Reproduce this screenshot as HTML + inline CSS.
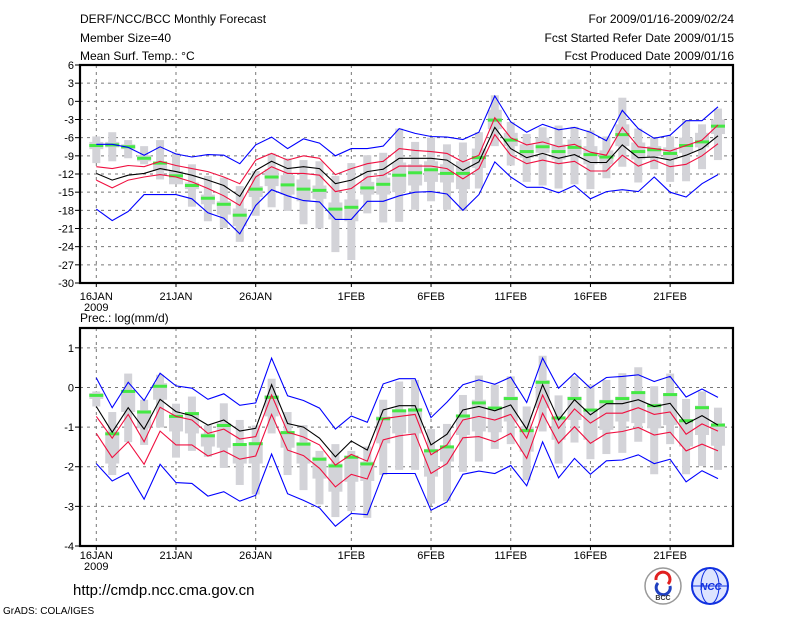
<!DOCTYPE html>
<html><head><meta charset="utf-8"><style>
html,body{margin:0;padding:0;background:#fff;}
svg{display:block;font-family:"Liberation Sans",sans-serif;}
</style></head><body>
<svg id="chart" width="800" height="618" viewBox="0 0 800 618">
<g font-size="12" fill="#000">
<text x="80" y="23">DERF/NCC/BCC Monthly Forecast</text>
<text x="80" y="42">Member Size=40</text>
<text x="80" y="60">Mean Surf. Temp.: °C</text>
<text x="734" y="23" text-anchor="end">For 2009/01/16-2009/02/24</text>
<text x="734" y="42" text-anchor="end">Fcst Started Refer Date 2009/01/15</text>
<text x="734" y="60" text-anchor="end">Fcst Produced Date 2009/01/16</text>
<text x="80" y="322">Prec.: log(mm/d)</text>
</g>
<g id="top"></g>
<g id="bot"></g>
<g>
<text x="73" y="595" font-size="15">http://cmdp.ncc.cma.gov.cn</text>
<text x="3" y="614" font-size="10">GrADS: COLA/IGES</text>
<g>
<circle cx="663" cy="586" r="18" fill="#fff" stroke="#999" stroke-width="1.5"/>
<path d="M656 580 a7 7 0 1 1 12 4" fill="none" stroke="#e02020" stroke-width="3"/>
<path d="M670 586 a7 7 0 1 1 -12 -3" fill="none" stroke="#2040c0" stroke-width="3"/>
<text x="663" y="600" font-size="7" text-anchor="middle" font-weight="bold" fill="#333">BCC</text>
</g>
<g>
<circle cx="710" cy="586" r="18" fill="#dde4ff" stroke="#1030e0" stroke-width="2"/>
<ellipse cx="710" cy="586" rx="9" ry="18" fill="none" stroke="#1030e0" stroke-width="1"/>
<line x1="692" y1="586" x2="728" y2="586" stroke="#1030e0" stroke-width="1"/>
<text x="711" y="590" font-size="10" text-anchor="middle" font-style="italic" font-weight="bold" fill="#1030e0">NCC</text>
</g>
</g>
</svg>
<script>
// ===== Temperature data (°C), 40 days 16JAN..24FEB =====
const tBlueHi=[-7.1,-7.1,-7.6,-8.9,-7.5,-8.7,-9.2,-8.8,-8.9,-10.3,-7.2,-5.9,-7.8,-6.2,-6.9,-9.0,-7.8,-7.8,-7.4,-4.5,-5.3,-5.8,-5.9,-6.3,-5.1,0.9,-3.4,-5.1,-3.8,-4.7,-4.3,-5.1,-6.5,-1.5,-4.5,-6.1,-5.6,-3.2,-3.2,-0.9];
const tRedHi=[-10.8,-11.1,-10.6,-10.8,-9.9,-10.6,-11.1,-11.6,-12.5,-13.6,-9.7,-8.6,-9.7,-9.0,-9.4,-12.1,-11.1,-10.3,-9.9,-7.8,-8.1,-8.3,-8.6,-10.0,-8.9,-2.7,-6.0,-7.2,-6.7,-7.5,-7.1,-8.4,-8.9,-4.3,-7.5,-7.8,-8.2,-7.3,-6.4,-3.9];
const tMean=[-11.9,-13.0,-12.2,-11.9,-11.1,-11.6,-12.2,-13.0,-13.9,-15.7,-11.4,-9.9,-11.1,-10.8,-11.1,-13.6,-13.0,-11.6,-11.2,-9.4,-9.4,-9.4,-9.7,-11.4,-10.0,-4.3,-7.8,-9.3,-8.6,-9.4,-8.8,-10.1,-10.1,-7.2,-9.3,-9.2,-9.7,-8.9,-7.8,-5.7];
const tRedLo=[-13.0,-14.3,-13.0,-12.5,-12.1,-12.5,-13.3,-14.4,-15.6,-17.2,-12.5,-10.8,-11.9,-11.9,-12.2,-14.9,-14.4,-12.5,-12.2,-10.7,-10.7,-10.7,-11.1,-12.8,-11.1,-5.5,-8.9,-10.3,-9.7,-10.3,-9.9,-11.5,-11.5,-8.9,-10.7,-9.7,-10.8,-10.4,-9.0,-7.0];
const tBlueLo=[-17.8,-19.7,-18.2,-15.4,-15.4,-15.4,-16.1,-18.4,-19.3,-21.9,-17.2,-14.6,-15.6,-16.4,-16.6,-19.5,-19.5,-16.5,-16.5,-15.6,-15.0,-14.9,-15.3,-18.0,-15.4,-10.0,-12.5,-14.2,-14.2,-15.1,-13.9,-16.1,-14.9,-14.6,-14.9,-12.5,-15.0,-15.8,-13.6,-12.1];
const tMax=[-5.8,-5.1,-6.4,-7.4,-6.4,-8.5,-10.4,-12.3,-12.6,-14.0,-11.5,-8.6,-9.4,-9.7,-9.9,-12.3,-10.2,-8.9,-8.5,-4.5,-6.7,-6.0,-7.1,-6.8,-5.1,1.0,-3.4,-5.4,-4.3,-4.0,-4.2,-4.8,-5.8,0.6,-4.5,-6.0,-5.8,-3.1,-3.8,-1.2];
const tMin=[-10.2,-9.9,-9.4,-10.4,-12.9,-12.9,-17.4,-19.8,-20.9,-23.2,-18.9,-17.5,-18.1,-20.3,-21.0,-24.9,-26.2,-18.5,-20.0,-19.9,-17.9,-16.5,-17.9,-18.1,-14.4,-7.4,-10.6,-13.3,-13.9,-14.4,-13.7,-14.5,-12.7,-10.8,-13.4,-11.2,-13.3,-13.2,-11.2,-9.7];
const tQHi=[-6.7,-6.7,-7.1,-8.9,-10.0,-11.5,-13.4,-15.4,-16.5,-17.7,-14.0,-11.2,-12.2,-12.9,-13.9,-16.7,-16.2,-13.3,-12.6,-10.1,-10.4,-9.9,-10.4,-9.9,-7.8,-1.4,-5.2,-7.1,-6.0,-7.1,-6.3,-7.4,-8.1,-3.8,-6.8,-7.4,-7.6,-6.0,-5.2,-3.0];
const tQLo=[-7.9,-7.6,-7.9,-9.9,-11.5,-13.7,-14.5,-17.0,-18.7,-20.6,-15.8,-14.0,-15.4,-16.5,-16.1,-19.5,-19.8,-15.4,-15.4,-15.0,-13.9,-13.3,-13.4,-14.5,-11.0,-4.6,-7.4,-9.3,-8.5,-9.6,-8.8,-10.4,-10.4,-7.4,-9.6,-9.0,-9.6,-8.5,-7.6,-5.4];
const tGreen=[-7.3,-7.2,-7.5,-9.4,-10.2,-12.3,-13.9,-16.0,-17.0,-18.8,-14.5,-12.5,-13.8,-14.5,-14.7,-17.8,-17.5,-14.3,-13.7,-12.2,-11.8,-11.3,-11.9,-11.9,-9.3,-3.1,-6.4,-8.3,-7.5,-8.3,-7.6,-8.8,-9.2,-5.5,-8.3,-8.0,-8.6,-7.3,-6.7,-4.1];
const tTicks=[6,3,0,-3,-6,-9,-12,-15,-18,-21,-24,-27,-30];
// ===== Precipitation data log(mm/d) =====
const pBlueHi=[0.24,-0.51,0.13,-0.33,0.36,0.04,-0.02,-0.30,-0.16,-0.45,-0.39,0.74,-0.21,-0.33,-0.52,-1.05,-0.72,-0.88,0.09,0.22,0.22,-0.76,-0.37,0.07,0.19,0.08,0.26,-0.38,0.74,-0.02,0.36,-0.02,0.25,0.28,0.32,0.15,0.28,-0.24,-0.04,-0.25];
const pRedHi=[-0.73,-1.28,-0.68,-1.37,-0.50,-0.73,-0.82,-1.16,-1.05,-1.30,-1.24,-0.19,-1.13,-1.25,-1.45,-1.96,-1.69,-1.86,-0.79,-0.73,-0.68,-1.70,-1.45,-0.82,-0.73,-0.82,-0.68,-1.28,-0.19,-1.03,-0.54,-0.90,-0.65,-0.65,-0.51,-0.68,-0.62,-1.18,-0.92,-1.10];
const pMean=[-0.48,-1.13,-0.51,-1.05,-0.30,-0.61,-0.71,-0.95,-0.82,-1.10,-1.03,0.07,-0.91,-1.00,-1.28,-1.75,-1.35,-1.58,-0.57,-0.46,-0.46,-1.45,-1.18,-0.57,-0.48,-0.59,-0.44,-1.05,0.07,-0.82,-0.31,-0.69,-0.41,-0.41,-0.31,-0.48,-0.40,-0.92,-0.71,-0.95];
const pRedLo=[-1.16,-1.77,-1.37,-1.94,-1.10,-1.45,-1.45,-1.73,-1.60,-1.81,-1.73,-0.68,-1.58,-1.72,-2.04,-2.51,-2.19,-2.31,-1.32,-1.22,-1.17,-2.17,-1.92,-1.27,-1.24,-1.37,-1.16,-1.79,-0.65,-1.41,-0.99,-1.41,-1.16,-1.11,-1.01,-1.20,-1.13,-1.60,-1.43,-1.60];
const pBlueLo=[-1.92,-2.36,-2.15,-2.82,-1.94,-2.40,-2.42,-2.74,-2.63,-2.87,-2.72,-1.68,-2.68,-2.85,-3.04,-3.50,-3.18,-3.21,-2.17,-2.17,-2.17,-3.10,-2.89,-2.19,-2.11,-2.17,-1.97,-2.48,-1.37,-2.28,-1.79,-2.19,-1.85,-1.83,-1.70,-1.92,-1.81,-2.38,-2.10,-2.30];
const pMax=[-0.10,-0.62,0.35,-0.31,0.32,-0.41,-0.23,-0.95,-0.40,-0.82,-0.96,0.22,-0.62,-0.95,-1.60,-1.43,-1.60,-1.49,-0.31,0.15,0.19,-1.05,-0.92,-0.19,0.30,0.07,0.28,-0.48,0.80,-0.20,0.28,0.07,0.19,0.36,0.51,0.03,0.35,-0.29,-0.10,-0.51];
const pMin=[-0.48,-2.21,-1.38,-1.45,-1.01,-1.77,-1.60,-1.75,-2.03,-2.46,-2.70,-1.16,-2.21,-2.59,-2.95,-3.27,-3.12,-3.29,-2.21,-2.08,-2.08,-2.93,-2.87,-2.13,-1.87,-1.55,-1.43,-2.34,-1.11,-1.92,-1.39,-1.81,-1.68,-1.65,-1.37,-2.19,-1.43,-2.19,-1.98,-2.08];
const pQHi=[-0.14,-1.11,-0.06,-0.57,0.11,-0.68,-0.62,-1.16,-0.90,-1.41,-1.38,-0.19,-1.10,-1.38,-1.75,-1.92,-1.75,-1.87,-0.73,-0.57,-0.52,-1.55,-1.47,-0.68,-0.31,-0.48,-0.23,-0.99,0.19,-0.73,-0.23,-0.57,-0.31,-0.23,-0.10,-0.40,-0.14,-0.80,-0.46,-0.90];
const pQLo=[-0.29,-1.92,-0.62,-1.03,-0.31,-1.11,-1.16,-1.49,-1.52,-1.92,-1.92,-0.73,-1.52,-1.92,-2.30,-2.63,-2.38,-2.36,-1.41,-1.16,-1.16,-2.25,-1.87,-1.20,-1.11,-1.13,-0.86,-1.62,-0.52,-1.32,-0.82,-1.32,-1.07,-0.86,-0.90,-1.03,-0.95,-1.49,-1.20,-1.47];
const pGreen=[-0.20,-1.17,-0.10,-0.62,0.03,-0.73,-0.66,-1.22,-0.96,-1.44,-1.42,-0.25,-1.14,-1.43,-1.81,-1.98,-1.76,-1.93,-0.79,-0.59,-0.57,-1.60,-1.50,-0.72,-0.39,-0.52,-0.28,-1.09,0.13,-0.77,-0.28,-0.57,-0.36,-0.28,-0.13,-0.46,-0.18,-0.84,-0.51,-0.95];
const pTicks=[1,0,-1,-2,-3,-4];
// ===== X axis categories =====
const dateLabels=["16JAN","21JAN","26JAN","1FEB","6FEB","11FEB","16FEB","21FEB"];
const dateIdx=[0,5,10,16,21,26,31,36];

const NS="http://www.w3.org/2000/svg";
const X0=80,X1=733;
function xs(i){return 96.3+i*15.94;}
function mk(parent,tag,attrs){const e=document.createElementNS(NS,tag);for(const k in attrs)e.setAttribute(k,attrs[k]);parent.appendChild(e);return e;}

function panel(g,top,bot,vTop,vBot,ticks,S,labelY){
  const ys=v=>top+(vTop-v)*(bot-top)/(vTop-vBot);
  // grid
  ticks.forEach(t=>{const y=ys(t);if(y>top+1&&y<bot-1){const l=mk(g,'line',{x1:X0,x2:X1,y1:y,y2:y,stroke:'#777','stroke-width':1,'stroke-dasharray':'3,4'});
    
    }});
  dateIdx.forEach(d=>{const x=xs(d);const l=mk(g,'line',{x1:x,x2:x,y1:top,y2:bot,stroke:'#777','stroke-width':1,'stroke-dasharray':'3,4'});
    
    });
  // bars
  for(let i=0;i<S.mean.length;i++){
    const x=xs(i);
    const r1=mk(g,'rect',{x:x-4,y:ys(S.max[i]),width:8,height:Math.max(1,ys(S.min[i])-ys(S.max[i])),fill:'#d3d3d8'});
    
    
    const r2=mk(g,'rect',{x:x-7,y:ys(S.qhi[i]),width:14,height:Math.max(1,ys(S.qlo[i])-ys(S.qhi[i])),fill:'#d3d3d8'});
    
    
    const r3=mk(g,'rect',{x:x-7,y:ys(S.green[i])-1.5,width:14,height:3,fill:'#44e844'});
    
    
  }
  // lines
  const series=[[S.bhi,'#0000ff','blue-upper-line'],[S.blo,'#0000ff','blue-lower-line'],[S.rhi,'#f01040','red-upper-line'],[S.rlo,'#f01040','red-lower-line'],[S.mean,'#000','ensemble-mean-line']];
  series.forEach(([arr,c,n])=>{const p=mk(g,'polyline',{points:arr.map((v,i)=>xs(i).toFixed(1)+','+ys(v).toFixed(1)).join(' '),fill:'none',stroke:c,'stroke-width':1.1});
    
    });
  // frame
  const f=mk(g,'rect',{x:X0,y:top,width:X1-X0,height:bot-top,fill:'none',stroke:'#000','stroke-width':2.2});
  
  
  // y ticks
  ticks.forEach(t=>{const y=ys(t);
    const l=mk(g,'line',{x1:X0-5,x2:X0,y1:y,y2:y,stroke:'#000','stroke-width':1});
    
    
    const tx=mk(g,'text',{x:X0-6,y:y+4,'text-anchor':'end','font-size':11});
    tx.textContent=String(t);
    
    });
  // x ticks & labels
  dateIdx.forEach((d,k)=>{const x=xs(d);
    const l=mk(g,'line',{x1:x,x2:x,y1:bot,y2:bot+4,stroke:'#000','stroke-width':1});
    
    
    const tx=mk(g,'text',{x:x,y:labelY,'text-anchor':'middle','font-size':11});
    tx.textContent=dateLabels[k];
    
    });
  const yr=mk(g,'text',{x:xs(0),y:labelY+11,'text-anchor':'middle','font-size':11});
  yr.textContent='2009';
  
  
}
panel(document.getElementById('top'),65,283,6,-30,tTicks,
  {bhi:tBlueHi,rhi:tRedHi,mean:tMean,rlo:tRedLo,blo:tBlueLo,max:tMax,min:tMin,qhi:tQHi,qlo:tQLo,green:tGreen},300);
panel(document.getElementById('bot'),328,546,1.5,-4,pTicks,
  {bhi:pBlueHi,rhi:pRedHi,mean:pMean,rlo:pRedLo,blo:pBlueLo,max:pMax,min:pMin,qhi:pQHi,qlo:pQLo,green:pGreen},559);
</script>
</body></html>
